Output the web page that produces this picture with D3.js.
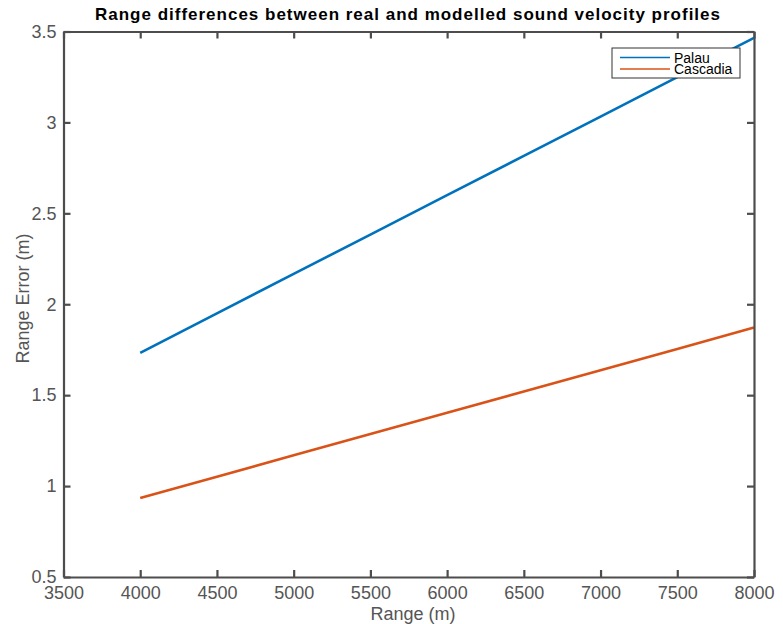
<!DOCTYPE html>
<html>
<head>
<meta charset="utf-8">
<script src="https://cdn.jsdelivr.net/npm/d3@7"></script>
<style>
  html, body { margin: 0; padding: 0; background: #fff; }
  svg { display: block; font-family: "Liberation Sans", Arial, Helvetica, sans-serif; }
</style>
</head>
<body>
<svg id="chart" width="783" height="624"></svg>
<script>
// Range (m) at which each profile was evaluated
const ranges = [4000, 4500, 5000, 5500, 6000, 6500, 7000, 7500, 8000];
// Range error (m) for each sound velocity profile
const palau = [1.733, 1.95, 2.167, 2.383, 2.6, 2.816, 3.032, 3.249, 3.465];
const cascadia = [0.935, 1.052, 1.169, 1.286, 1.403, 1.52, 1.637, 1.754, 1.872];
const seriesNames = ["Palau", "Cascadia"];
const seriesColors = ["#0072BD", "#D95319"];
const xTicks = [3500, 4000, 4500, 5000, 5500, 6000, 6500, 7000, 7500, 8000];
const yTicks = [0.5, 1, 1.5, 2, 2.5, 3, 3.5];

const svg = d3.select("#chart");
const plotLeft = 63.5, plotRight = 754, plotTop = 31.5, plotBottom = 577;
const axisColor = "#4d4d4d";
const labelColor = "#555";
const labelSize = 18;

const x = d3.scaleLinear().domain([3500, 8000]).range([plotLeft, plotRight]);
const y = d3.scaleLinear().domain([0.5, 3.5]).range([plotBottom, plotTop]);

// Title
svg.append("text")
  .attr("x", 407.5)
  .attr("y", 20)
  .attr("text-anchor", "middle")
  .attr("font-size", 17)
  .attr("font-weight", "bold")
  .attr("fill", "#000")
  .attr("textLength", 625)
  .attr("lengthAdjust", "spacing")
  .text("Range differences between real and modelled sound velocity profiles");

// Data lines
const line = d3.line().x((d, i) => x(ranges[i])).y(d => y(d));
[palau, cascadia].forEach((vals, k) => {
  svg.append("path")
    .datum(vals)
    .attr("fill", "none")
    .attr("stroke", seriesColors[k])
    .attr("stroke-width", 2.6)
    .attr("d", line);
});

// Axes: ticks point inward on all four sides
const tickLen = 7;
function styleAxis(g) {
  g.selectAll("path.domain").attr("stroke", axisColor).attr("stroke-width", 2.2);
  g.selectAll(".tick line").attr("stroke", axisColor).attr("stroke-width", 2.2);
  g.selectAll("text").attr("fill", labelColor).attr("font-size", labelSize);
}

const xBottom = svg.append("g").attr("transform", `translate(0,${plotBottom})`)
  .call(d3.axisBottom(x).tickValues(xTicks).tickSizeInner(-tickLen).tickSizeOuter(0).tickPadding(9).tickFormat(d3.format("d")));
styleAxis(xBottom);

const xTop = svg.append("g").attr("transform", `translate(0,${plotTop})`)
  .call(d3.axisTop(x).tickValues(xTicks).tickSizeInner(-tickLen).tickSizeOuter(0).tickFormat(""));
styleAxis(xTop);

const yLeft = svg.append("g").attr("transform", `translate(${plotLeft},0)`)
  .call(d3.axisLeft(y).tickValues(yTicks).tickSizeInner(-tickLen).tickSizeOuter(0).tickPadding(7).tickFormat(d3.format("")));
styleAxis(yLeft);

const yRight = svg.append("g").attr("transform", `translate(${plotRight},0)`)
  .call(d3.axisRight(y).tickValues(yTicks).tickSizeInner(-tickLen).tickSizeOuter(0).tickFormat(""));
styleAxis(yRight);

// Axis labels
svg.append("text")
  .attr("x", 413)
  .attr("y", 619.5)
  .attr("text-anchor", "middle")
  .attr("font-size", labelSize)
  .attr("fill", labelColor)
  .text("Range (m)");

svg.append("text")
  .attr("transform", "translate(29,298.5) rotate(-90)")
  .attr("text-anchor", "middle")
  .attr("font-size", labelSize)
  .attr("fill", labelColor)
  .text("Range Error (m)");

// Legend
const lg = svg.append("g").attr("transform", "translate(612,48)");
lg.append("rect")
  .attr("x", 0).attr("y", 0).attr("width", 128).attr("height", 30)
  .attr("fill", "#fff").attr("stroke", "#333").attr("stroke-width", 1);
const legendText = lg.append("text")
  .attr("font-size", 14)
  .attr("fill", "#000");
seriesNames.forEach((name, i) => {
  const yy = 9.5 + i * 11.5;
  lg.append("line")
    .attr("x1", 8).attr("x2", 58).attr("y1", yy).attr("y2", yy)
    .attr("stroke", seriesColors[i]).attr("stroke-width", 1.5);
  legendText.append("tspan")
    .attr("x", 62).attr("y", yy + 5)
    .text(name);
});
</script>
</body>
</html>
